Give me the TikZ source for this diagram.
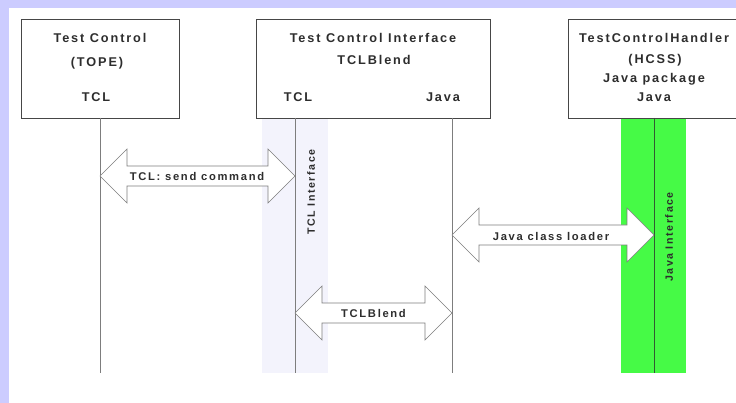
\documentclass[tikz,border=0pt]{standalone}
\usepackage{fontspec}
\setmainfont{Liberation Sans}[LetterSpace=15]
\usetikzlibrary{calc}
\definecolor{bglav}{RGB}{204,204,255}
\definecolor{bandlav}{RGB}{243,243,252}
\definecolor{bandgreen}{RGB}{70,250,70}
\definecolor{linegray}{RGB}{125,125,125}
\definecolor{greenline}{RGB}{50,90,50}
\definecolor{boxgray}{RGB}{70,70,70}
\definecolor{txtgray}{RGB}{45,45,45}
\newcommand\blockarr[2]{%
  \path[barrow] (#1) -- ++(27,-27) -- ++(0,17) -- ($(#2)+(-27,-10)$) -- ++(0,-17) -- (#2)
    -- ++(-27,27) -- ++(0,-17) -- ($(#1)+(27,10)$) -- ++(0,17) -- cycle;}
\begin{document}
\begin{tikzpicture}[x=1pt,y=-1pt,
  box/.style={draw=boxgray,line width=1.2pt,fill=white,inner sep=0,anchor=north west},
  lbl/.style={font=\fontsize{12.7}{14}\selectfont\bfseries,text=txtgray,inner sep=0,anchor=base},
  alabel/.style={font=\fontsize{11.2}{12}\selectfont\bfseries,text=txtgray,inner sep=0},
  vlabel/.style={font=\fontsize{10.6}{11}\selectfont\bfseries,text=txtgray,inner sep=0,rotate=90},
  life/.style={draw=linegray,line width=1pt},
  barrow/.style={draw=linegray,line width=0.6pt,fill=white},
]
\fill[bglav] (0,0) rectangle (736,403);
\fill[white] (9,8) rectangle (736,403);
\useasboundingbox (0,0) rectangle (736,403);

% activation bands
\fill[bandlav] (262,118) rectangle (328,373);
\fill[bandgreen] (621,118) rectangle (686,373);

% boxes
\node[box, minimum width=158pt, minimum height=99pt] (b1) at (21,19) {};
\node[box, minimum width=234pt, minimum height=99pt] (b2) at (256,19) {};
\node[box, minimum width=174pt, minimum height=99pt] (b3) at (568,19) {};

% box texts
\node[lbl] (t1a) at (100,43) {Test Control};
\node[lbl] (t1b) at (97,67) {(TOPE)};
\node[lbl] (t1c) at (96,102) {TCL};
\node[lbl] (t2a) at (373,43) {Test Control Interface};
\node[lbl] (t2b) at (374,65) {TCLBlend};
\node[lbl] (t2c) at (298,102) {TCL};
\node[lbl] (t2d) at (443,102) {Java};
\node[lbl] (t3a) at (654,43) {TestControlHandler};
\node[lbl] (t3b) at (655,64) {(HCSS)};
\node[lbl] (t3c) at (654,83) {Java package};
\node[lbl] (t3d) at (654,102) {Java};

% lifelines
\coordinate (l1t) at (100,118); \coordinate (l1b) at (100,373);
\coordinate (l2t) at (295,118); \coordinate (l2b) at (295,373);
\coordinate (l3t) at (452,118); \coordinate (l3b) at (452,373);
\coordinate (l4t) at (654,118); \coordinate (l4b) at (654,373);
\draw[life] (l1t) -- (l1b);
\draw[life] (l2t) -- (l2b);
\draw[life] (l3t) -- (l3b);
\draw[life, draw=greenline] (l4t) -- (l4b);

% block arrows
\coordinate (a1L) at (100,176); \coordinate (a1R) at (295,176);
\coordinate (a2L) at (452,235); \coordinate (a2R) at (654,235);
\coordinate (a3L) at (295,313); \coordinate (a3R) at (452,313);
\blockarr{a1L}{a1R}
\blockarr{a2L}{a2R}
\blockarr{a3L}{a3R}
\node[alabel] (m1) at (197,176) {TCL: send command};
\node[alabel] (m2) at (551,236) {Java class loader};
\node[alabel] (m3) at (373.5,313) {TCLBlend};

% vertical labels
\node[vlabel] (v1) at (311,192) {TCL Interface};
\node[vlabel] (v2) at (669,237) {Java Interface};
\end{tikzpicture}
\end{document}
